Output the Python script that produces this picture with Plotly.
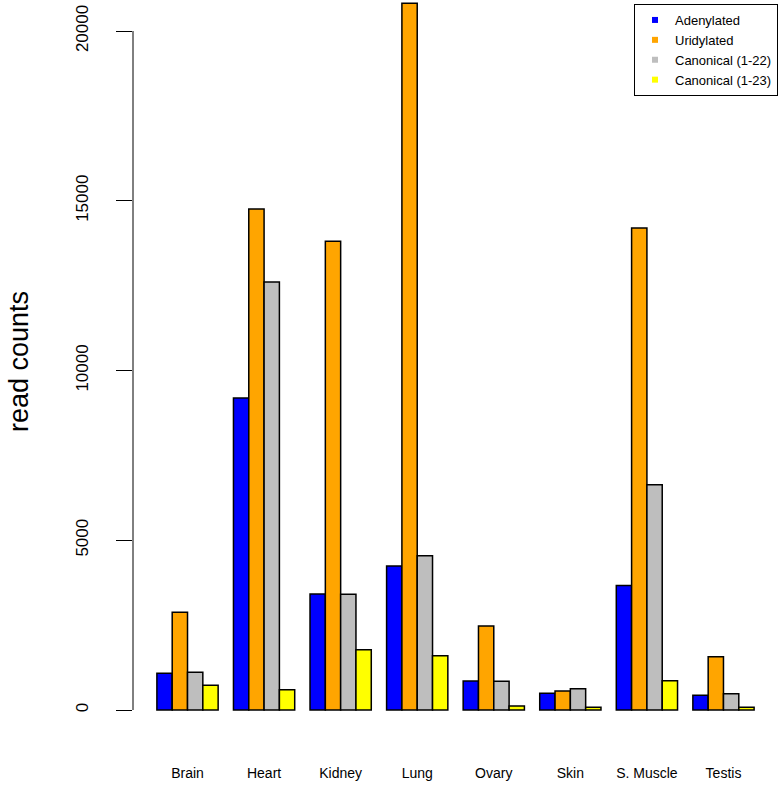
import plotly.graph_objects as go

categories = ["Brain", "Heart", "Kidney", "Lung", "Ovary", "Skin", "S. Muscle", "Testis"]
series_names = ["Adenylated", "Uridylated", "Canonical (1-22)", "Canonical (1-23)"]
adenylated = [1085, 9190, 3415, 4240, 855, 490, 3670, 435]
uridylated = [2880, 14760, 13810, 20820, 2475, 560, 14200, 1570]
canonical_22 = [1110, 12610, 3410, 4540, 845, 628, 6635, 480]
canonical_23 = [730, 598, 1776, 1600, 118, 80, 864, 80]
y_ticks = [0, 5000, 10000, 15000, 20000]
colors = ["#0000FF", "#FFA500", "#BEBEBE", "#FFFF00"]

series_values = [adenylated, uridylated, canonical_22, canonical_23]

FONT = "Liberation Sans, Arial, Helvetica, sans-serif"

fig = go.Figure()
for name, vals, col in zip(series_names, series_values, colors):
    fig.add_trace(go.Bar(
        x=categories, y=vals, name=name, showlegend=False,
        marker=dict(color=col, line=dict(color="black", width=1.5)),
    ))
for name, col in zip(series_names, colors):
    fig.add_trace(go.Scatter(
        x=[None], y=[None], mode="markers", name=name,
        marker=dict(symbol="square", size=6, color=col),
    ))

px_per_unit = 679 / 20000.0
ymax = 710 / px_per_unit
ymin = -28 / px_per_unit

fig.update_layout(
    width=781, height=785,
    margin=dict(l=133, r=3, t=0, b=47),
    paper_bgcolor="white", plot_bgcolor="white",
    barmode="group", bargap=0.2, bargroupgap=0,
    font=dict(family=FONT, color="black"),
    showlegend=True,
    legend=dict(
        x=1.0, xanchor="right",
        y=1 - 4 / 738.0, yanchor="top",
        bordercolor="black", borderwidth=1,
        bgcolor="white",
        font=dict(size=13, family=FONT, color="black"),
        itemsizing="trace",
        tracegroupgap=0,
    ),
    xaxis=dict(
        range=[-0.712, 7.712], showline=False, showgrid=False, zeroline=False,
        ticks="", tickfont=dict(size=14, family=FONT, color="black"),
        ticklabelstandoff=25,
    ),
    yaxis=dict(
        range=[ymin, ymax], showline=False, showgrid=False, zeroline=False,
        tickmode="array", tickvals=y_ticks, ticktext=[str(v) for v in y_ticks],
        ticks="outside", ticklen=16, tickwidth=1, tickcolor="black",
        tickangle=-90, tickfont=dict(size=17, family=FONT, color="black"),
        ticklabelstandoff=21,
    ),
    shapes=[dict(
        type="line", xref="paper", yref="y", x0=0, x1=0,
        y0=y_ticks[0], y1=y_ticks[-1], line=dict(color="black", width=1),
    )],
    annotations=[dict(
        text="read counts", xref="paper", yref="paper",
        x=(19 - 133) / 645.0, y=(738 - 362) / 738.0,
        xanchor="center", yanchor="middle", textangle=-90, showarrow=False,
        font=dict(size=27, family=FONT, color="black"),
    )],
)

fig.write_html(
    "out.html",
    config={"displayModeBar": False},
    post_script="document.body.style.margin='0';document.body.style.padding='0';",
)
